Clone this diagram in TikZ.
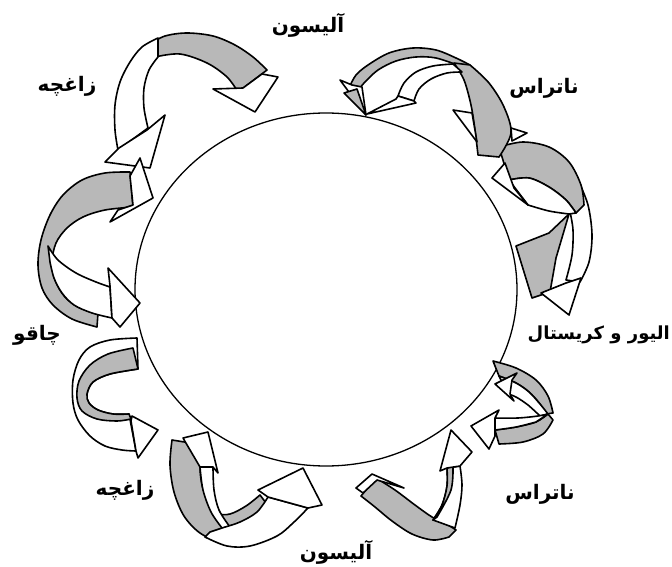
\documentclass[tikz,border=0pt]{standalone}
\usepackage{fontspec}
\newfontfamily\fa[Script=Arabic]{DejaVu Sans}
\TeXXeTstate=1
\usetikzlibrary{shapes.geometric}
\definecolor{gr}{gray}{0.72}
\tikzset{
  ribst/.style={draw=black, line width=1.6pt, line join=round},
  lab/.style={font=\fa\bfseries\fontsize{20}{22}\selectfont, inner sep=0pt},
  circst/.style={draw=black, line width=1.3pt, ellipse, inner sep=0pt, minimum width=382pt, minimum height=353pt}
}
\newcommand\rib[3]{\filldraw[ribst,fill=#1] plot[smooth,tension=0.55] coordinates {#2} -- plot[smooth,tension=0.55] coordinates {#3} -- cycle;}
\newcommand\poly[2]{\filldraw[ribst,fill=#1] #2 -- cycle;}
\begin{document}
\begin{tikzpicture}[x=1pt,y=-1pt]
\useasboundingbox (0,0) rectangle (672,567);
\node[circst] (circ) at (326,289.5) {};

% top-left
\rib{gr}{(150,44) (165,36) (187,33) (213,36) (235,45) (253,57) (267,70)}{(238,92) (227,77) (207,63) (180,54) (155,57)}
\poly{white}{(243,88) -- (213,89) -- (255,112) -- (278,77) -- (262,74)}
\rib{white}{(158,38) (142,47) (130,62) (120,82) (115,105) (115,130) (118,150)}{(148,128) (144,108) (144,88) (149,70) (158,57)}
\poly{white}{(119,148) -- (105,162) -- (150,168) -- (165,115) -- (147,130)}

% left
\rib{gr}{(130,172) (105,173) (82,180) (63,195) (50,215) (41,240) (38,265) (42,288) (53,305) (72,319) (97,327)}{(98,313) (80,308) (65,297) (55,280) (52,262) (56,243) (67,228) (83,217) (105,210) (133,207)}
\rib{white}{(48,246) (58,260) (76,273) (96,282) (110,287)}{(112,318) (92,313) (74,305) (62,293) (54,278) (50,262)}
\poly{white}{(110,286) -- (108,268) -- (140,303) -- (120,327) -- (112,318)}
\poly{white}{(130,176) -- (140,158) -- (153,198) -- (110,222) -- (118,210) -- (133,205)}

% lower left
\rib{white}{(137,338) (110,340) (90,347) (79,360) (73,380) (73,403) (78,420) (90,436) (105,446) (122,450) (136,451)}{(129,414) (113,414) (98,410) (89,403) (87,394) (93,382) (110,374) (138,369)}
\rib{gr}{(133,348) (108,354) (90,365) (79,381) (77,398) (82,411) (97,419) (117,421) (131,419)}{(129,414) (113,414) (98,410) (89,403) (87,394) (93,382) (110,374) (138,369)}
\poly{white}{(136,451) -- (138,458) -- (158,430) -- (132,416) -- (131,421)}

% bottom
\rib{gr}{(172,440) (170,465) (174,492) (184,516) (200,533) (220,541) (236,533) (252,519) (266,503)}{(260,495) (246,506) (230,514) (217,513) (208,500) (202,485) (200,465) (203,445)}
\rib{white}{(222,528) (211,512) (203,490) (200,467)}{(213,467) (214,490) (219,510) (230,527)}
\poly{white}{(200,467) -- (183,438) -- (208,432) -- (218,473) -- (213,467)}
\rib{white}{(205,537) (227,546) (250,546) (277,536) (293,523) (308,508)}{(268,497) (257,512) (240,522) (222,528) (210,532)}
\poly{white}{(308,508) -- (322,505) -- (303,468) -- (258,490) -- (268,497)}

% bottom right
\rib{gr}{(376,478) (395,490) (415,505) (432,517) (448,525) (456,530)}{(449,537) (433,540) (412,534) (392,521) (375,507) (361,496)}
\poly{white}{(363,493) -- (356,488) -- (372,474) -- (404,488) -- (377,480)}
\rib{white}{(433,520) (442,505) (447,486) (447,468)}{(460,466) (462,485) (460,505) (455,528)}
\rib{gr}{(433,520) (442,505) (447,486) (447,468)}{(453,466) (451,490) (437,517)}
\poly{white}{(447,468) -- (440,471) -- (451,430) -- (472,452) -- (460,466)}

\rib{gr}{(493,361) (516,368) (536,380) (548,396) (553,413)}{(546,414) (540,404) (529,392) (516,383) (499,376)}
\rib{white}{(499,376) (516,383) (529,392) (540,404) (548,414)}{(540,416) (528,405) (516,397) (508,394)}
\poly{white}{(512,380) -- (517,373) -- (495,384) -- (514,401) -- (510,394)}
\rib{gr}{(548,414) (536,422) (516,427) (495,430)}{(499,444) (523,442) (543,434) (553,420)}
\rib{white}{(493,418) (518,418) (538,416) (548,414)}{(536,422) (516,427) (495,430)}
\poly{white}{(495,418) -- (499,410) -- (471,426) -- (489,449) -- (495,436)}

% right
\rib{white}{(578,180) (588,205) (592,235) (589,262) (580,282)}{(566,280) (572,255) (573,230) (570,212)}
\rib{gr}{(499,147) (523,142) (549,147) (569,162) (581,185) (584,205)}{(576,213) (566,200) (549,187) (529,178) (509,180)}
\rib{white}{(509,180) (529,178) (549,187) (566,200) (576,213)}{(569,214) (549,211) (528,205)}
\poly{gr}{(516,246) -- (549,233) -- (569,214) -- (556,258) -- (550,292) -- (532,298)}
\poly{white}{(541,293) -- (569,315) -- (581,278) -- (566,283)}
\poly{white}{(505,163) -- (492,178) -- (528,205) -- (514,188)}

% top right
\rib{gr}{(350,86) (356,75) (368,65) (389,53) (413,48) (436,50) (456,58) (470,65)}{(460,66) (436,58) (416,57) (396,61) (378,70) (365,82) (360,88)}
\rib{gr}{(454,63) (464,80) (471,105) (475,130) (478,155)}{(499,157) (511,133) (504,107) (489,83) (470,65)}
\poly{white}{(472,113) -- (453,110) -- (477,142)}
\poly{white}{(511,128) -- (527,133) -- (512,141)}
\rib{white}{(453,64) (433,66) (416,72) (404,83) (398,96)}{(414,101) (419,89) (431,79) (447,73) (462,72)}
\poly{white}{(398,96) -- (396,99) -- (367,114) -- (416,103) -- (414,101)}
\poly{white}{(352,85) -- (340,80) -- (366,115) -- (362,87)}
\poly{gr}{(344,93) -- (357,89) -- (366,115)}

% labels
\node[lab] (t1) at (308,25) {\beginR آلیسون\endR};
\node[lab] (t2) at (544,88) {\beginR ناتراس\endR};
\node[lab,anchor=east,font=\fa\bfseries\fontsize{18}{20}\selectfont] (t3) at (670,335) {\beginR الیور و کریستال\endR};
\node[lab] (t4) at (540,494) {\beginR ناتراس\endR};
\node[lab] (t5) at (336,552) {\beginR آلیسون\endR};
\node[lab] (t6) at (125,490) {\beginR زاغچه\endR};
\node[lab] (t7) at (37,335) {\beginR چاقو\endR};
\node[lab] (t8) at (67,86) {\beginR زاغچه\endR};
\end{tikzpicture}
\end{document}
